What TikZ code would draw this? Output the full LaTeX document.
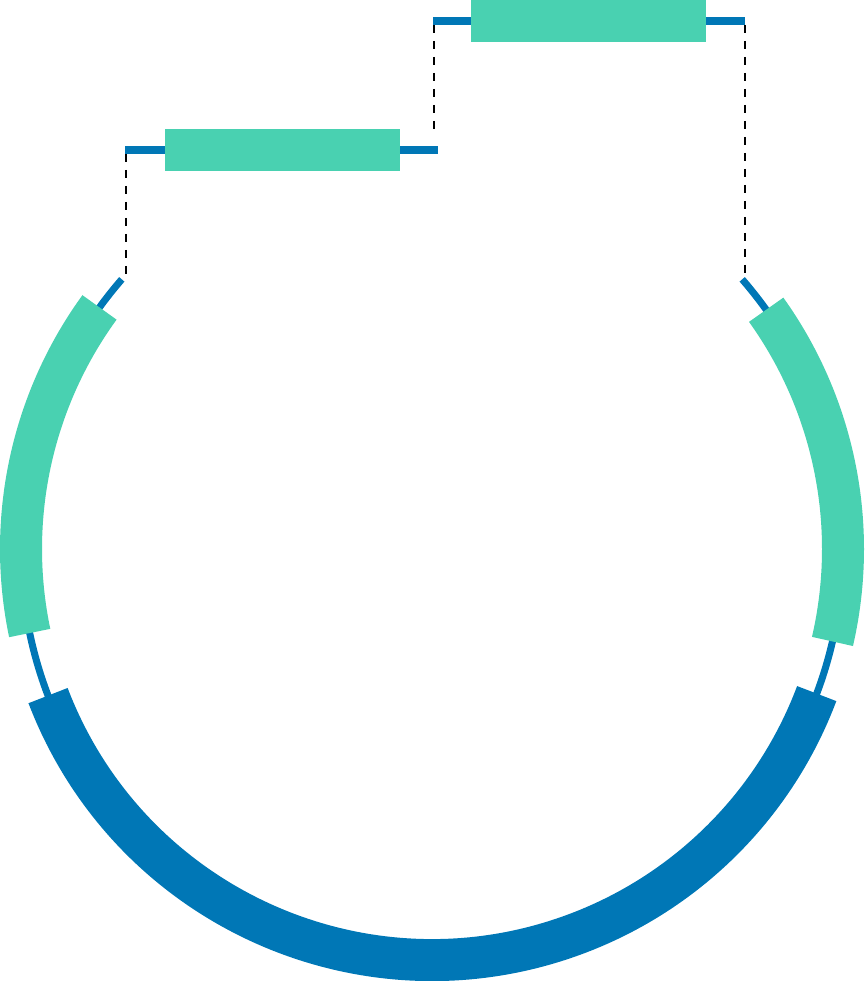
\documentclass[tikz,border=0pt]{standalone}
\definecolor{teal1}{RGB}{73,209,177}
\definecolor{blue1}{RGB}{0,119,182}
\tikzset{
  thinline/.style={draw=blue1, line width=7pt},
  thickteal/.style={draw=teal1, line width=42pt},
  thickblue/.style={draw=blue1, line width=42pt},
  dashline/.style={draw=black, line width=2pt, dash pattern=on 8pt off 8pt},
  genebox/.style={fill=teal1, draw=none, inner sep=0pt, minimum width=235pt, minimum height=42pt},
}
\begin{document}
\begin{tikzpicture}[x=1pt,y=1pt]
\useasboundingbox (0,0) rectangle (864,981);
\coordinate (c) at (432,432);
% circle backbone
\draw[thinline] ([shift={(139:411)}]c) arc[start angle=139, end angle=201, radius=411];
\draw[thinline] ([shift={(41:411)}]c) arc[start angle=41, end angle=-21, radius=411];
% thick arcs
\draw[thickteal] ([shift={(144:411)}]c) arc[start angle=144, end angle=191.8, radius=411];
\draw[thickteal] ([shift={(35.6:411)}]c) arc[start angle=35.6, end angle=-13, radius=411];
\draw[thickblue] ([shift={(200.9:411)}]c) arc[start angle=200.9, end angle=339.4, radius=411];
% linear segments
\coordinate (l1a) at (125,831);
\coordinate (l1b) at (438,831);
\coordinate (l2a) at (433,960);
\coordinate (l2b) at (745,960);
\draw[thinline, line width=8pt] (l1a) -- (l1b);
\draw[thinline, line width=8pt] (l2a) -- (l2b);
\node[genebox] (boxA) at (282,830.5) {};
\node[genebox] (boxB) at (588.5,960) {};
% dashed guides
\coordinate (d1a) at (126,827);
\coordinate (d1b) at (126,705);
\coordinate (d2a) at (434,956);
\coordinate (d2b) at (434,846);
\coordinate (d3a) at (745,956);
\coordinate (d3b) at (745,706);
\draw[dashline] (d1a) -- (d1b);
\draw[dashline] (d2a) -- (d2b);
\draw[dashline, line width=1.3pt] (d3a) -- (d3b);
\end{tikzpicture}
\end{document}
